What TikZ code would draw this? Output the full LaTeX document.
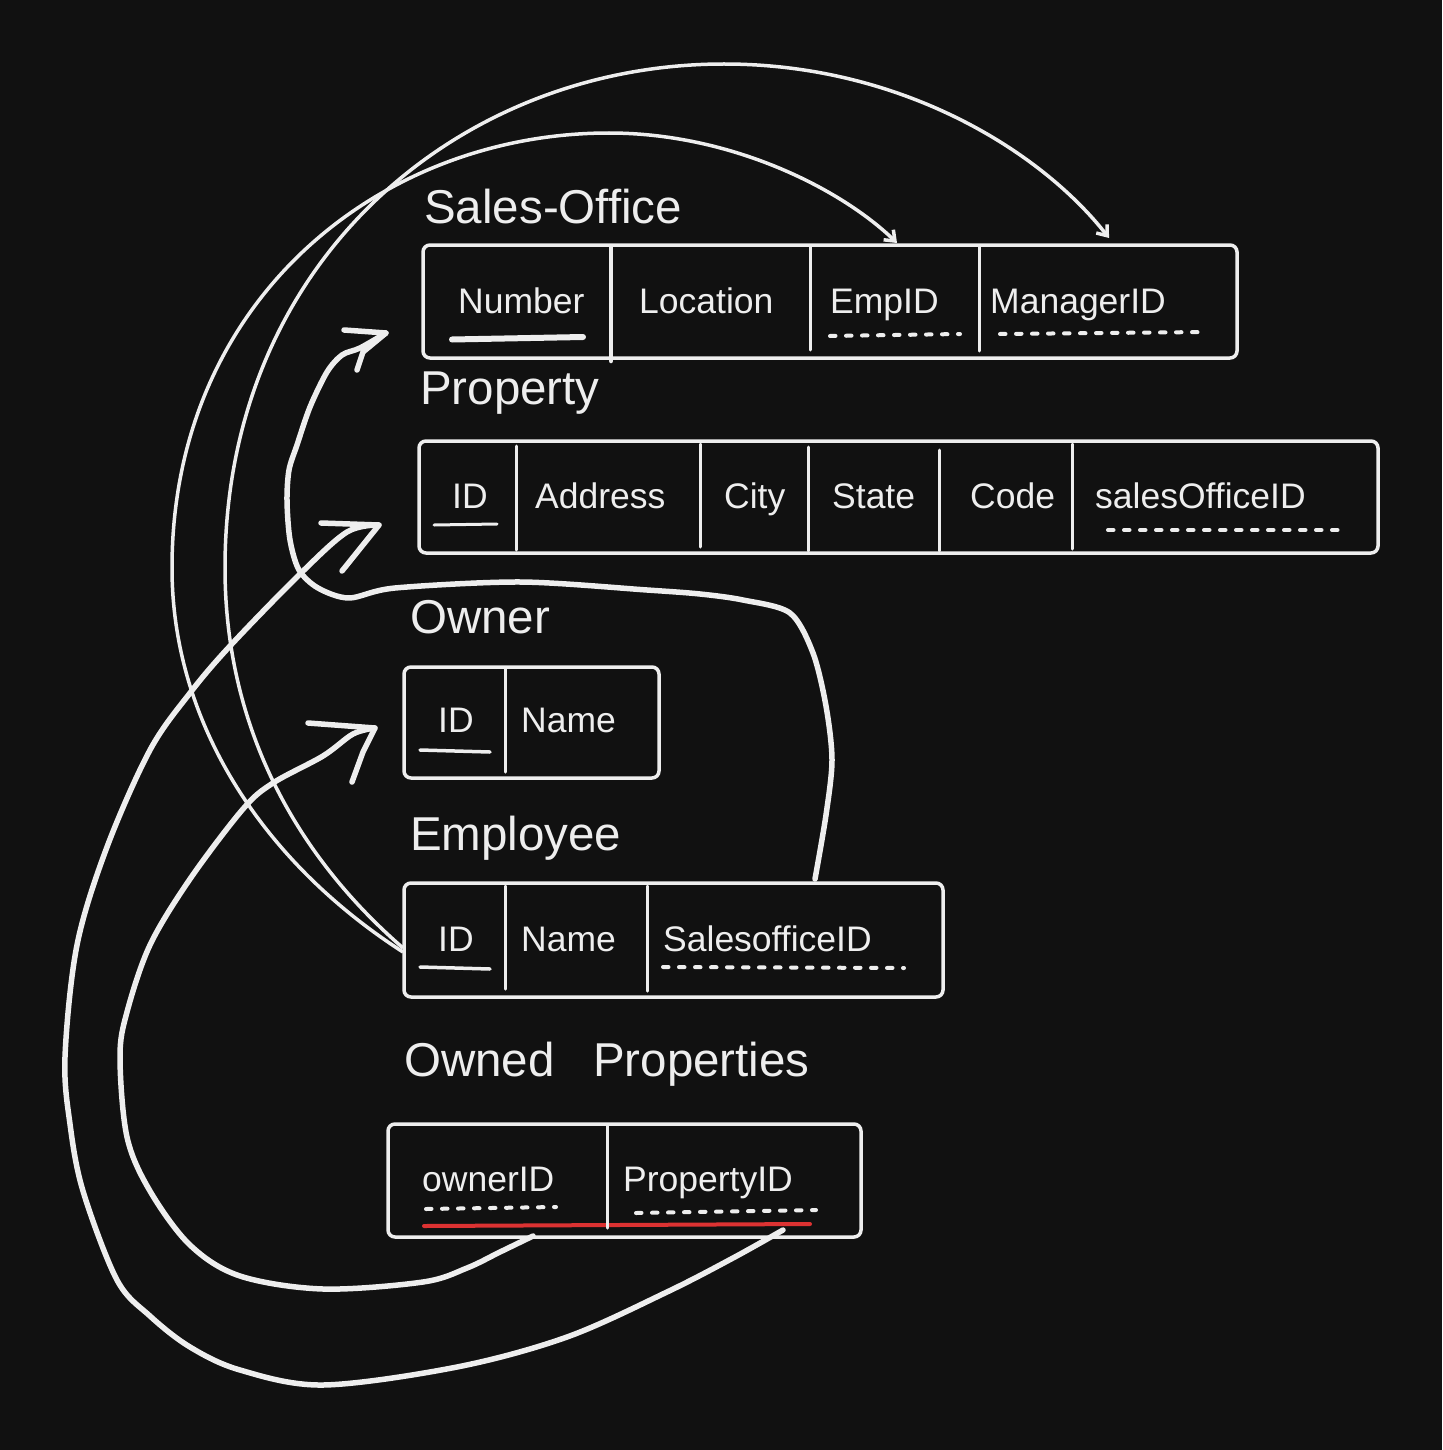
\documentclass[tikz,border=0pt]{standalone}
\usepackage{fontspec}
\setmainfont{Liberation Sans}
\usetikzlibrary{arrows.meta}
\definecolor{bg}{HTML}{111111}
\definecolor{ink}{HTML}{EEEEEE}
\definecolor{redl}{HTML}{DC3232}
\begin{document}
\begin{tikzpicture}[x=1pt,y=-1pt,
 tbl/.style={draw=ink, line width=3.5pt, rounded corners=7pt, anchor=north west, inner sep=0pt, outer sep=0pt},
 title/.style={text=ink, anchor=base west, inner sep=0pt, font=\fontsize{47.5}{56}\selectfont},
 fld/.style={text=ink, anchor=base west, inner sep=0pt, font=\fontsize{35.5}{42}\selectfont},
 divl/.style={draw=ink, line width=3pt, line cap=round},
 pk/.style={draw=ink, line width=3.5pt, line cap=round},
 fk/.style={draw=ink, line width=4pt, line cap=round, dash pattern=on 5.5pt off 10.5pt},
 arcc/.style={draw=ink, line width=3.5pt, -{Straight Barb[length=9pt,width=14pt]}},
 hand/.style={draw=ink, line width=5.5pt, line cap=round, line join=round},
]
\useasboundingbox (0,0) rectangle (1442,1450);
\fill[bg] (0,0) rectangle (1442,1450);

% titles
\node[title] (tSO) at (424,223) {Sales-Office};
\node[title] (tPR) at (420,404) {Property};
\node[title] (tOW) at (410,633) {Owner};
\node[title] (tEM) at (410,850) {Employee};
\node[title] (tOP1) at (404,1076) {Owned};
\node[title] (tOP2) at (593,1076) {Properties};

% tables
\node[tbl, minimum width=814pt, minimum height=113pt] (so) at (423,245) {};
\node[tbl, minimum width=959pt, minimum height=112pt] (pr) at (419,441) {};
\node[tbl, minimum width=255pt, minimum height=111pt] (ow) at (404,667) {};
\node[tbl, minimum width=539pt, minimum height=114pt] (em) at (404,883) {};
\node[tbl, minimum width=473pt, minimum height=113pt] (op) at (388,1124) {};

% red composite key line
\draw[draw=redl, line width=4pt, line cap=round] (424,1226) -- (810,1224);

% dividers
\draw[divl, line width=4.5pt] (611,247) -- (611,361);
\draw[divl] (810,247) -- (810,350);
\draw[divl] (979,247) -- (979,351);
\draw[divl] (516,446) -- (516,550);
\draw[divl] (700,444) -- (700,547);
\draw[divl] (808,447) -- (808,551);
\draw[divl] (939,450) -- (939,551);
\draw[divl] (1072,444) -- (1072,549);
\draw[divl] (505,669) -- (505,772);
\draw[divl] (505,886) -- (505,989);
\draw[divl] (647,886) -- (647,991);
\draw[divl] (607,1126) -- (607,1228);

% fields
\node[fld] (soNum) at (458,313) {Number};
\node[fld] (soLoc) at (639,313) {Location};
\node[fld] (soEmp) at (830,313) {EmpID};
\node[fld] (soMan) at (990,313) {ManagerID};
\node[fld] (prID) at (452,508) {ID};
\node[fld] (prAdr) at (535,508) {Address};
\node[fld] (prCity) at (724,508) {City};
\node[fld] (prSt) at (832,508) {State};
\node[fld] (prCode) at (970,508) {Code};
\node[fld] (prSO) at (1095,508) {salesOfficeID};
\node[fld] (owID) at (438,732) {ID};
\node[fld] (owName) at (521,732) {Name};
\node[fld] (emID) at (438,951) {ID};
\node[fld] (emName) at (521,951) {Name};
\node[fld] (emSO) at (663,951) {SalesofficeID};
\node[fld] (opOwn) at (422,1191) {ownerID};
\node[fld] (opProp) at (623,1191) {PropertyID};

% key markers
\draw[pk, line width=6pt] (452,339.5) -- (583,337);
\draw[pk, line width=3pt] (434,525) -- (497,524);
\draw[pk] (420,750) -- (490,752);
\draw[pk] (420,967) -- (490,969);
\draw[fk] (830,336) -- (960,334);
\draw[fk] (1000,334) -- (1206,332);
\draw[fk] (1108,530) -- (1342,530);
\draw[fk] (663,967) -- (904,968);
\draw[fk] (426,1209) -- (556,1207);
\draw[fk] (636,1213) -- (816,1210);

% connector end points
\coordinate (emL1) at (403,952);
\coordinate (emL2) at (403,948);
\coordinate (empTip) at (897,243);
\coordinate (manTip) at (1109,238);
\coordinate (emTop) at (815,879);
\coordinate (numTip) at (386,333);
\coordinate (prTop) at (783,1230);
\coordinate (pidTip) at (379,525);
\coordinate (owBot) at (533,1236);
\coordinate (oidTip) at (375,728);

% Employee.ID -> Sales-Office.EmpID
\draw[arcc] (emL1) .. controls (260,860) and (172,720) .. (172,568)
  .. controls (172,300) and (380,133) .. (609,133)
  .. controls (730,133) and (840,188) .. (empTip);

% Employee.ID -> Sales-Office.ManagerID
\draw[arcc] (emL2) .. controls (290,850) and (225,720) .. (225,568)
  .. controls (225,260) and (460,64) .. (724,64)
  .. controls (900,64) and (1040,150) .. (manTip);

% Employee.SalesofficeID -> Sales-Office.Number
\draw[hand] plot[smooth, tension=0.5] coordinates {(emTop) (826,815) (832,760) (826,706) (813,653) (790,613) (743,600) (700,594) (647,590) (521,582) (395,588) (349,598) (318,588) (299,570) (290,540) (287,501) (289,470) (297,445) (310,407) (327,372) (342,355) (360,348) (numTip)};
\draw[hand] (344,330) -- (numTip) -- (363,352) -- (357,370);

% Owned.PropertyID -> Property.ID
\draw[hand] plot[smooth, tension=0.55] coordinates {(prTop) (733,1258) (667,1292) (567,1337) (457,1367) (323,1385) (240,1370) (190,1347) (150,1316) (117,1280) (83,1191) (70,1124) (65,1057) (77,945) (107,847) (150,750) (190,693) (230,646) (300,574) (347,532) (pidTip)};
\draw[hand] (321,523) -- (pidTip) -- (342,571);

% Owned.ownerID -> Owner.ID
\draw[hand] plot[smooth, tension=0.55] coordinates {(owBot) (500,1252) (467,1268) (423,1282) (323,1289) (240,1276) (190,1245) (150,1191) (127,1137) (120,1057) (127,1012) (150,945) (190,879) (243,809) (273,783) (323,756) (353,734) (oidTip)};
\draw[hand] (308,723) -- (oidTip) -- (363,752) -- (352,782);
\end{tikzpicture}
\end{document}
